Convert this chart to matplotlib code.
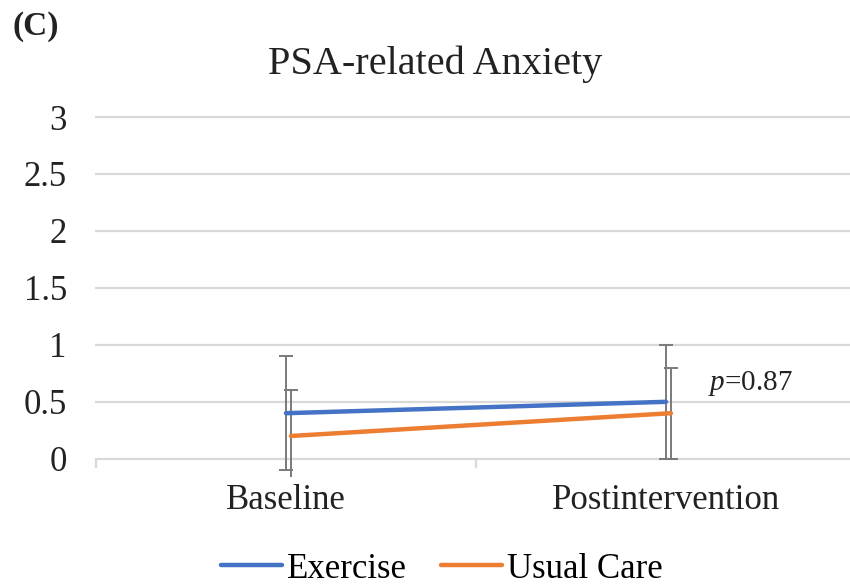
import matplotlib.pyplot as plt
import numpy as np

plt.rcParams["font.family"] = ["Liberation Serif", "DejaVu Serif"]
plt.rcParams["mathtext.fontset"] = "custom"
plt.rcParams["mathtext.rm"] = "Liberation Serif"
plt.rcParams["mathtext.it"] = "Liberation Serif:italic"

# ── Data ──────────────────────────────────────────────────────────────────────
timepoints = ["Baseline", "Postintervention"]
exercise_mean = [0.4, 0.5]
exercise_err = [0.5, 0.5]
usual_mean = [0.2, 0.4]
usual_err = [0.4, 0.4]
yticks = [0, 0.5, 1, 1.5, 2, 2.5, 3]
p_value = "0.87"

BLUE = "#4472C4"
ORANGE = "#ED7D31"
GRID = "#d9d9d9"
ERR = "#7a7a7a"

# ── Figure ────────────────────────────────────────────────────────────────────
fig = plt.figure(figsize=(8.5, 5.88), dpi=100)
ax = fig.add_axes([96 / 850, 1 - 477 / 588, 760 / 850, (477 - 117) / 588])

x = np.arange(len(timepoints))
shift = 0.013  # small horizontal nudge so the two series' bars don't overlap

for y in yticks[1:]:
    ax.axhline(y, color=GRID, lw=1.6, zorder=0, clip_on=False)
ax.axhline(0, color=GRID, lw=1.6, zorder=0)
for xb in [-0.5, 0.5, 1.5]:
    ax.plot([xb, xb], [0, -0.07], color=GRID, lw=1.6, clip_on=False, zorder=0)

ax.errorbar(x, exercise_mean, yerr=exercise_err, fmt="none", ecolor=ERR,
            elinewidth=1.4, capsize=5, capthick=1.4, zorder=2)
ax.errorbar(x + shift, usual_mean, yerr=usual_err, fmt="none", ecolor=ERR,
            elinewidth=1.4, capsize=5, capthick=1.4, zorder=2)

ax.plot(x, exercise_mean, color=BLUE, lw=3.2, solid_capstyle="round",
        label="Exercise", zorder=3)
ax.plot(x + shift, usual_mean, color=ORANGE, lw=3.2, solid_capstyle="round",
        label="Usual Care", zorder=3)

ax.set_xlim(-0.5, 1.5)
ax.set_ylim(-0.16, 3)
ax.set_yticks(yticks)
ax.set_yticklabels([f"{v:g}" for v in yticks], fontsize=25, color="#222222")
ax.set_xticks(x)
ax.set_xticklabels(timepoints, fontsize=25, color="#222222")
ax.tick_params(axis="both", length=0)
ax.tick_params(axis="y", pad=21)
ax.tick_params(axis="x", pad=5)
for s in ax.spines.values():
    s.set_visible(False)

ax.text(1.11, 0.66, rf"$\it{{p}}$={p_value}", fontsize=21, va="center",
        color="#222222")

fig.text(268 / 850, 1 - 64 / 588, "PSA-related Anxiety", fontsize=29,
         va="center", ha="left", color="#222222")
fig.text(12 / 850, 1 - 26 / 588, "(C)", fontsize=24, fontweight="bold",
         va="center", ha="left", color="#222222")

fig.legend(loc="center", bbox_to_anchor=(0.52, 1 - 569 / 588), ncol=2,
           frameon=False, fontsize=25, handlelength=1.75, handletextpad=0.15,
           columnspacing=1.0)

fig.savefig("out.png", dpi=100)
